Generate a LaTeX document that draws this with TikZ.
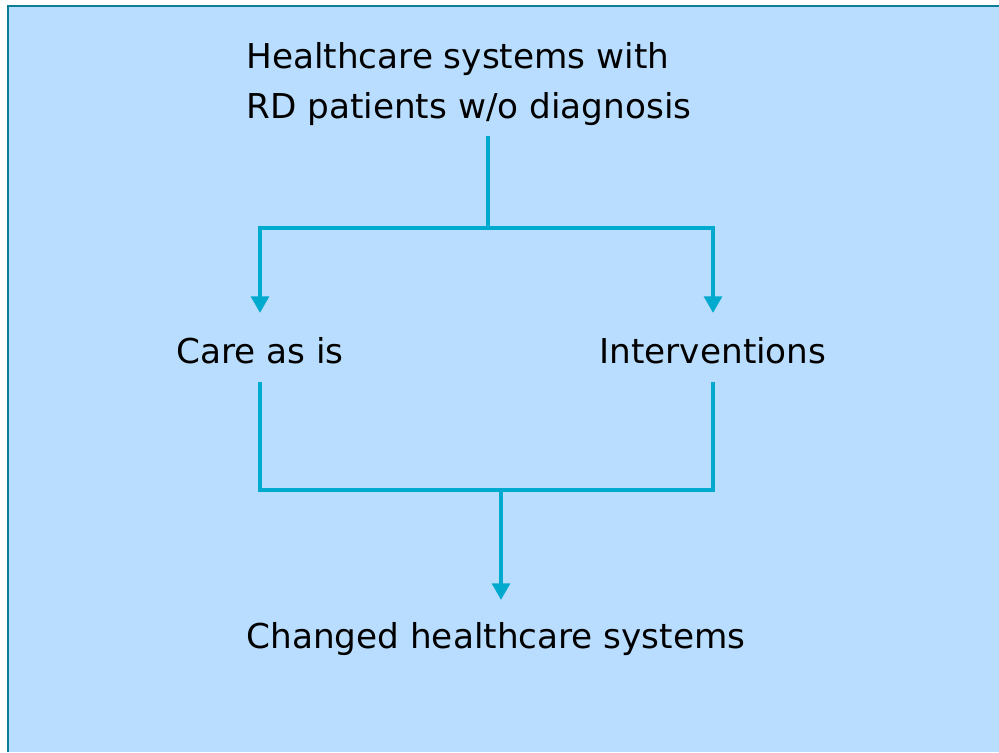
\documentclass[tikz,border=0pt]{standalone}
\usepackage{fontspec}
\setmainfont{DejaVu Sans}
\usepackage{xcolor}
\usepackage{tikz}
\usetikzlibrary{arrows.meta}

\definecolor{panel}{HTML}{B9DDFE}
\definecolor{frame}{HTML}{0B7E96}
\definecolor{flow}{HTML}{00A9CE}

\tikzstyle{box} = [inner sep=0pt, font=\fontsize{19.5}{28.5}\selectfont]
\tikzstyle{label} = [box, text height=14.6pt, text depth=4.9pt]
\tikzstyle{link} = [line width=2.7pt, draw=flow]
\tikzstyle{arrow} = [link, -{Triangle[width=10pt,length=9.5pt]}]

\begin{document}
\begin{tikzpicture}[x=0.02cm, y=-0.02cm]

	% panel with its frame on top and left
	\useasboundingbox (0,0) rectangle (999,752);
	\fill[white] (0,0) rectangle (999,752);
	\fill[panel] (8,6) rectangle (999,752);
	\draw[frame, line width=1.6pt] (8,752) -- (8,6) -- (999,6);

	\node (top) [box, align=left, anchor=north west] at (246,42) {Healthcare systems with\\RD patients w/o diagnosis};
	\node (care) [label, anchor=base] at (260,363) {Care as is};
	\node (interv) [label, anchor=base] at (713,363) {Interventions};
	\node (changed) [label, anchor=base] at (496,648) {Changed healthcare systems};

	\coordinate (split) at (488,228);
	\coordinate (join) at (501,490);

	\draw [link, shorten <=0.2cm] (split |- top.south) -- (split);
	\draw [arrow, shorten >=0.48cm] (split) -| (care.north);
	\draw [arrow, shorten >=0.48cm] (split) -| (interv.north);

	\draw [link, shorten <=0.2cm, shorten >=0.2cm] (care.south) |- (join) -| (interv.south);
	\draw [arrow, shorten >=0.44cm] (join) -- (join |- changed.north);

\end{tikzpicture}
\end{document}
